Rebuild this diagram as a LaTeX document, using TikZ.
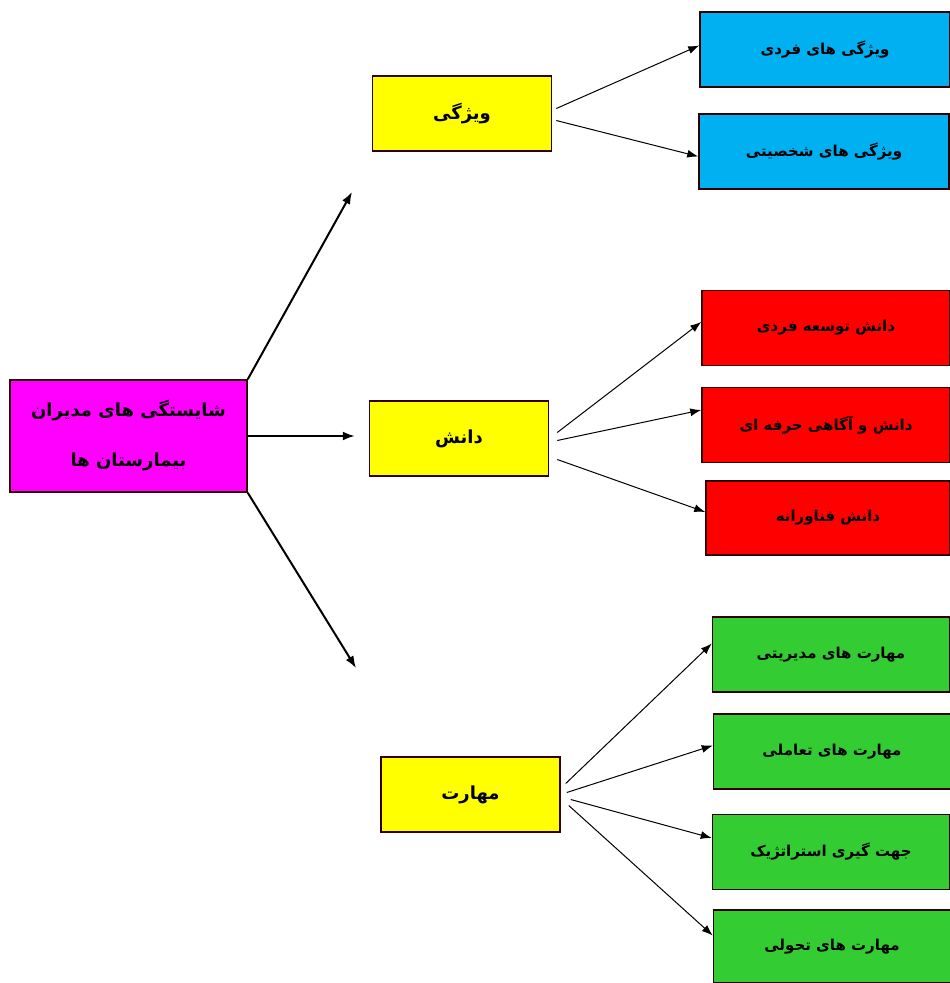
\documentclass[tikz,border=0pt]{standalone}
\usepackage{fontspec}
\newfontfamily\persian[Script=Arabic]{DejaVu Sans}
\TeXXeTstate=1
\usetikzlibrary{arrows.meta}
\definecolor{rootcol}{HTML}{FF00FF}
\definecolor{groupcol}{HTML}{FFFF00}
\definecolor{traitcol}{HTML}{00B0F0}
\definecolor{knowcol}{HTML}{FF0000}
\definecolor{skillcol}{HTML}{33CC33}
\newcommand{\fa}[1]{\persian\bfseries\beginR #1\endR}

\begin{document}
\begin{tikzpicture}[x=1pt,y=-1pt,
  box/.style={draw=black!80!red, line width=1.5pt, font=\fontsize{15}{18}\selectfont,
              minimum height=75pt, inner sep=2pt},
  group/.style={box, fill=groupcol, minimum width=179pt, font=\fontsize{18}{21}\selectfont},
  trait/.style={box, fill=traitcol, minimum width=250pt},
  know/.style={box, fill=knowcol, minimum width=248pt},
  skill/.style={box, fill=skillcol, minimum width=237pt},
  bigarrow/.style={line width=2pt, -{Latex[length=12pt,width=9pt]}},
  arrow/.style={line width=1pt, -{Latex[length=11pt,width=8pt]}}]
  \useasboundingbox (0,0) rectangle (950,983);
  % root
  \node[box, fill=rootcol, minimum width=237pt, minimum height=112pt, align=center,
        font=\fontsize{18}{50}\selectfont] (root) at (128.5,436)
        {\fa{شایستگی های مدیران}\\\fa{بیمارستان ها}};
  % groups
  \node[group] (trait) at (462,113.5) {\fa{ویژگی}};
  \node[group] (know) at (459,438.5) {\fa{دانش}};
  \node[group] (skill) at (470.5,794.5) {\fa{مهارت}};
  % traits
  \node[trait] (t1) at (825,49.5) {\fa{ویژگی های فردی}};
  \node[trait] (t2) at (824,151.5) {\fa{ویژگی های شخصیتی}};
  % knowledge
  \node[know] (k1) at (826,328) {\fa{دانش توسعه فردی}};
  \node[know] (k2) at (826,425) {\fa{دانش و آگاهی حرفه ای}};
  \node[know, minimum width=244pt, minimum height=74pt] (k3) at (828,518) {\fa{دانش فناورانه}};
  % skills
  \node[skill] (s1) at (831,654.5) {\fa{مهارت های مدیریتی}};
  \node[skill] (s2) at (832,751.5) {\fa{مهارت های تعاملی}};
  \node[skill] (s3) at (831,852) {\fa{جهت گیری استراتژیک}};
  \node[skill, minimum height=73pt] (s4) at (832,946.5) {\fa{مهارت های تحولی}};
  % root arrows
  \coordinate (up) at (352,192);
  \coordinate (down) at (356,668);
  \draw[bigarrow] (root.north east) -- (up);
  \draw[bigarrow, shorten >=14pt] (root.east) -- (root.east -| know.west);
  \draw[bigarrow] (root.south east) -- (down);
  % trait arrows
  \draw[arrow] ([xshift=4pt,yshift=5pt]trait.east) -- ([yshift=4pt]t1.west);
  \draw[arrow] ([xshift=4pt,yshift=-7pt]trait.east) -- ([yshift=-5pt]t2.west);
  % knowledge arrows
  \draw[arrow] ([xshift=8pt,yshift=6pt]know.east) -- ([yshift=6pt]k1.west);
  \draw[arrow] ([xshift=8pt,yshift=-2pt]know.east) -- ([yshift=15pt]k2.west);
  \draw[arrow] ([xshift=8pt,yshift=-21pt]know.east) -- ([yshift=6pt]k3.west);
  % skill arrows
  \draw[arrow] ([xshift=5pt,yshift=11pt]skill.east) -- ([yshift=11pt]s1.west);
  \draw[arrow] ([xshift=6pt,yshift=2pt]skill.east) -- ([yshift=6pt]s2.west);
  \draw[arrow] ([xshift=10pt,yshift=-5pt]skill.east) -- ([yshift=14pt]s3.west);
  \draw[arrow] ([xshift=8pt,yshift=-11pt]skill.east) -- ([yshift=11pt]s4.west);
\end{tikzpicture}
\end{document}
